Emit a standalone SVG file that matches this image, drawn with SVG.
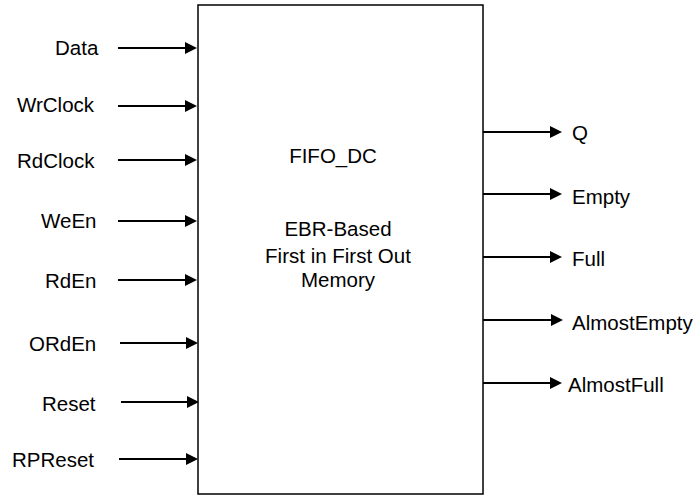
<svg xmlns="http://www.w3.org/2000/svg" width="699" height="497" viewBox="0 0 699 497">
<style>
text{font-family:"Liberation Sans",Arial,sans-serif;font-size:20.5px;fill:#000}
.c{text-anchor:middle}
.w{stroke:#000;stroke-width:2;fill:none}
</style>
<defs>
<marker id="ah" markerUnits="userSpaceOnUse" markerWidth="13" markerHeight="13" refX="1" refY="6" orient="auto" viewBox="0 0 13 13">
<path d="M0,0 L12,6 L0,12 Z" fill="#000"/>
</marker>
</defs>
<rect width="699" height="497" fill="#fff"/>
<g id="fifo">
<rect x="198" y="5" width="285" height="489" fill="#fff" stroke="#000" stroke-width="1.5"/>
<text class="c" x="333" y="163">FIFO_DC</text>
<text class="c" x="338" y="236">EBR-Based</text>
<text class="c" x="338" y="263">First in First Out</text>
<text class="c" x="338" y="287">Memory</text>
</g>
<g id="inputs">
<text x="55" y="55">Data</text>
<text x="17" y="112">WrClock</text>
<text x="17" y="168">RdClock</text>
<text x="41" y="228">WeEn</text>
<text x="45" y="288">RdEn</text>
<text x="29" y="351">ORdEn</text>
<text x="42" y="411">Reset</text>
<text x="12" y="467">RPReset</text>
</g>
<g id="outputs">
<text x="572" y="140">Q</text>
<text x="572" y="204">Empty</text>
<text x="572" y="266">Full</text>
<text x="572" y="330">AlmostEmpty</text>
<text x="568" y="392">AlmostFull</text>
</g>
<g id="connectors" class="w">
<line class="w" x1="118" y1="48" x2="186" y2="48" marker-end="url(#ah)"/>
<line class="w" x1="118" y1="106" x2="186" y2="106" marker-end="url(#ah)"/>
<line class="w" x1="118" y1="160" x2="186" y2="160" marker-end="url(#ah)"/>
<line class="w" x1="118" y1="221" x2="186" y2="221" marker-end="url(#ah)"/>
<line class="w" x1="118" y1="280" x2="186" y2="280" marker-end="url(#ah)"/>
<line class="w" x1="120" y1="343" x2="187" y2="343" marker-end="url(#ah)"/>
<line class="w" x1="121" y1="402" x2="188" y2="402" marker-end="url(#ah)"/>
<line class="w" x1="119" y1="459" x2="187" y2="459" marker-end="url(#ah)"/>
<line class="w" x1="483" y1="132" x2="551" y2="132" marker-end="url(#ah)"/>
<line class="w" x1="483" y1="194" x2="551" y2="194" marker-end="url(#ah)"/>
<line class="w" x1="483" y1="257" x2="551" y2="257" marker-end="url(#ah)"/>
<line class="w" x1="483" y1="320" x2="552" y2="320" marker-end="url(#ah)"/>
<line class="w" x1="483" y1="383" x2="551" y2="383" marker-end="url(#ah)"/>
</g>
</svg>
